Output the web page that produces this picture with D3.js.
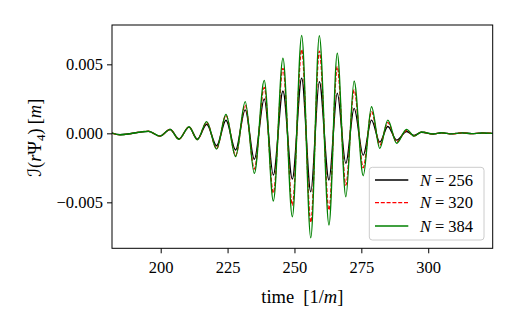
<!DOCTYPE html>
<html>
<head>
<meta charset="utf-8">
<script src="https://cdn.jsdelivr.net/npm/d3@7"></script>
<style>
  html, body { margin: 0; padding: 0; background: #fff; }
  svg { display: block; }
  text { font-family: "Liberation Serif", "DejaVu Serif", serif; fill: #000; }
</style>
</head>
<body>
<script>
// ---- data ----
const times = [181.8,184.8,195.4,199.7,203.5,206.8,210.6,213.7,217.2,220.9,224.4,228.0,231.6,235.0,238.7,242.1,245.7,249.2,252.7,256.1,259.3,262.9,266.0,269.2,272.3,275.7,278.8,281.9,284.9,288.2,291.9,294.7,297.5,301.8,305.0,308.9,312.6,316.3,320.1,324.1];
const n256 = [0.00002,-0.0001,0.00014,-0.0002,0.00028,-0.0004,0.00045,-0.00042,0.00066,-0.0009,0.00095,-0.00121,0.0017,-0.00188,0.00249,-0.00302,0.00307,-0.00331,0.0040,-0.00423,0.00374,-0.00338,0.0029,-0.00217,0.00181,-0.00158,0.00096,-0.00064,0.0005,-0.00049,0.00013,-0.00015,0.00008,-0.00005,0.00004,-0.00004,0.00003,-0.00002,0.00002,0.0];
const n320 = [0.00002,-0.0001,0.00015,-0.0002,0.00029,-0.00043,0.00047,-0.00045,0.0008,-0.0011,0.0013,-0.0016,0.00205,-0.00259,0.00332,-0.00433,0.00471,-0.0052,0.00607,-0.00645,0.00596,-0.00556,0.00483,-0.00375,0.00314,-0.00249,0.00157,-0.00085,0.00078,-0.00062,0.0002,-0.00018,0.00009,-0.00005,0.00004,-0.00004,0.00003,-0.00002,0.00002,0.0];
const n384 = [0.00002,-0.0001,0.00015,-0.0002,0.00029,-0.00043,0.00048,-0.00046,0.00085,-0.00114,0.00137,-0.00169,0.0023,-0.0029,0.00384,-0.0049,0.00544,-0.00604,0.00709,-0.00757,0.00707,-0.00664,0.0058,-0.00459,0.00379,-0.00307,0.00193,-0.00109,0.00096,-0.00072,0.00029,-0.0002,0.0001,-0.00005,0.00004,-0.00004,0.00003,-0.00002,0.00002,0.0];
const seriesNames = ["N = 256", "N = 320", "N = 384"];
const xTicks = [200, 225, 250, 275, 300];
const yTicks = [-0.005, 0, 0.005];
const yTickLabels = ["\u22120.005", "0.000", "0.005"];

// ---- layout ----
const W = 518, H = 324;
const m = { left: 112, right: 492.7, top: 25, bottom: 248.3 };

const svg = d3.select("body").append("svg").attr("width", W).attr("height", H);

const x = d3.scaleLinear().domain([181.8, 324.1]).range([m.left, m.right]);
const y = d3.scaleLinear().domain([-0.00833, 0.00785]).range([m.bottom, m.top]);

svg.append("defs").append("clipPath").attr("id", "clip")
  .append("rect").attr("x", m.left).attr("y", m.top)
  .attr("width", m.right - m.left).attr("height", m.bottom - m.top);

const styles = [
  { data: n256, color: "#000000", dash: null, w: 1.4 },
  { data: n320, color: "#ff0000", dash: "4,1.8", w: 1.3 },
  { data: n384, color: "#008000", dash: null, w: 1.4 }
];

const line = d3.line().x(d => x(d[0])).y(d => y(d[1])).curve(d3.curveMonotoneX);

const g = svg.append("g").attr("clip-path", "url(#clip)");
styles.forEach(s => {
  g.append("path")
    .datum(times.map((t, i) => [t, s.data[i]]))
    .attr("d", line)
    .attr("fill", "none")
    .attr("stroke", s.color)
    .attr("stroke-width", s.w)
    .attr("stroke-dasharray", s.dash)
    .attr("stroke-linejoin", "round");
});

// axes
const xAxis = d3.axisBottom(x).tickValues(xTicks).tickSize(5).tickPadding(4).tickFormat(d3.format("d"));
const yAxis = d3.axisLeft(y).tickValues(yTicks).tickSize(5).tickPadding(4).tickFormat((d, i) => yTickLabels[i]);

const gx = svg.append("g").attr("transform", `translate(0,${m.bottom})`).call(xAxis);
const gy = svg.append("g").attr("transform", `translate(${m.left},0)`).call(yAxis);
[gx, gy].forEach(a => {
  a.select(".domain").remove();
  a.selectAll("line").attr("stroke", "#000").attr("stroke-width", 1);
  a.selectAll("text").attr("font-family", "Liberation Serif, serif").attr("font-size", 16.5).attr("fill", "#000");
});
gx.selectAll("text").attr("dy", "0.95em");

// frame
svg.append("rect").attr("x", m.left).attr("y", m.top)
  .attr("width", m.right - m.left).attr("height", m.bottom - m.top)
  .attr("fill", "none").attr("stroke", "#000").attr("stroke-width", 1);

// x label
const xl = svg.append("text").attr("x", (m.left + m.right) / 2).attr("y", 303)
  .attr("text-anchor", "middle").attr("font-size", 18.5);
xl.append("tspan").text("time");
xl.append("tspan").attr("dx", 9).text("[1/");
xl.append("tspan").attr("font-style", "italic").text("m");
xl.append("tspan").text("]");

// y label
const yl = svg.append("text").attr("transform", `translate(41,${(m.top + m.bottom) / 2 + 1}) rotate(-90)`)
  .attr("text-anchor", "middle").attr("font-size", 18.5);
yl.append("tspan").attr("font-family", "DejaVu Serif, DejaVu Sans, serif").attr("font-style", "italic").text("\u2110");
yl.append("tspan").text("(");
yl.append("tspan").attr("font-style", "italic").text("r");
yl.append("tspan").text("\u03A8");
yl.append("tspan").attr("font-size", 13).attr("dy", 4).text("4");
yl.append("tspan").attr("dy", -4).text(")");
yl.append("tspan").attr("dx", 4).text("[");
yl.append("tspan").attr("font-style", "italic").text("m");
yl.append("tspan").text("]");

// legend
const lg = svg.append("g");
lg.append("rect").attr("x", 369.3).attr("y", 167.3).attr("width", 114.7).attr("height", 72.7)
  .attr("rx", 3).attr("fill", "#fff").attr("fill-opacity", 0.8)
  .attr("stroke", "#cccccc").attr("stroke-width", 1);
const rowY = [180, 202.7, 226];
styles.forEach((s, i) => {
  lg.append("line").attr("x1", 375).attr("x2", 408.3).attr("y1", rowY[i]).attr("y2", rowY[i])
    .attr("stroke", s.color).attr("stroke-width", s.w).attr("stroke-dasharray", s.dash);
  const t = lg.append("text").attr("x", 420).attr("y", rowY[i] + 5.5).attr("font-size", 16.5);
  const parts = seriesNames[i].split(" = ");
  t.append("tspan").attr("font-style", "italic").text(parts[0]);
  t.append("tspan").attr("dx", 4).text("=");
  t.append("tspan").attr("dx", 4).text(parts[1]);
});
</script>
</body>
</html>
